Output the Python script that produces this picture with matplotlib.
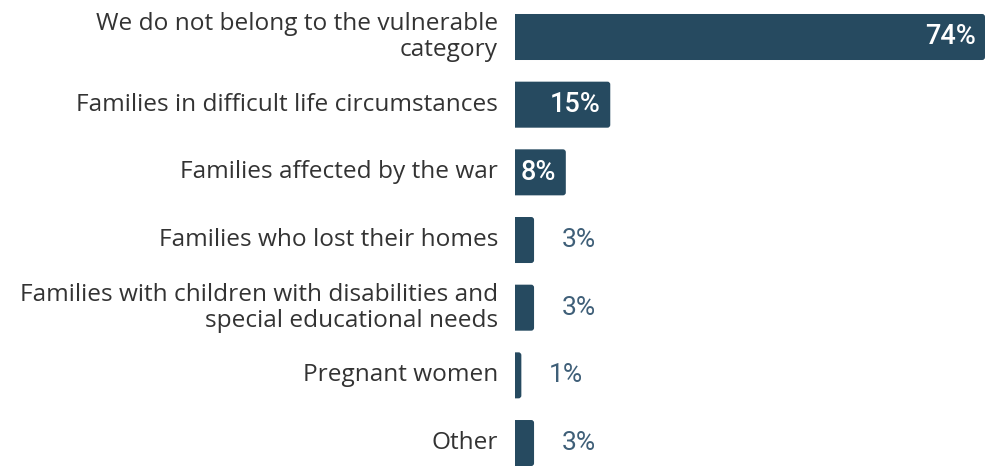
import matplotlib.pyplot as plt
from matplotlib.patches import FancyBboxPatch

categories = [
    'We do not belong to the vulnerable\ncategory',
    'Families in difficult life circumstances',
    'Families affected by the war',
    'Families who lost their homes',
    'Families with children with disabilities and\nspecial educational needs',
    'Pregnant women',
    'Other',
]
values = [74, 15, 8, 3, 3, 1, 3]

bar_color = '#264a60'
label_color = '#333333'
value_color = '#3f5f78'

fig = plt.figure(figsize=(9.86, 4.66), dpi=100)
ax = fig.add_axes([515 / 986, 0, 470 / 986, 1])

ys = list(range(len(values)))
bars = ax.barh(ys, values, height=0.68, color=bar_color)

# swap the plain rectangles for ones with slightly rounded corners
px_x = 470 / 74.0
px_y = 67.67
for b in bars:
    x, y = b.get_x(), b.get_y()
    w, h = b.get_width(), b.get_height()
    b.set_visible(False)
    patch = FancyBboxPatch((x - 1, y), w + 1, h,
                           boxstyle='round,pad=0,rounding_size=0.45',
                           mutation_aspect=px_x / px_y,
                           facecolor=bar_color, edgecolor='none')
    ax.add_patch(patch)

ax.set_xlim(0, 74)
ax.set_ylim((466 - 37) / px_y, -37 / px_y)
ax.axis('off')

for i, v in enumerate(values):
    if v >= 8:
        ax.text(v - 1.5, i, f'{v}%', ha='right', va='center', color='white',
                fontsize=19.5, family='Roboto', fontweight='medium')
    else:
        ax.text(v + 4.3, i, f'{v}%', ha='left', va='center', color=value_color,
                fontsize=19, family='Roboto')

    ax.annotate(categories[i], xy=(0, i), xycoords='data',
                xytext=(-17, 0), textcoords='offset pixels',
                ha='right', va='center', multialignment='right',
                fontsize=17.6, family='Open Sans', color=label_color,
                linespacing=1.1, annotation_clip=False)

fig.savefig('out.png', dpi=100)
